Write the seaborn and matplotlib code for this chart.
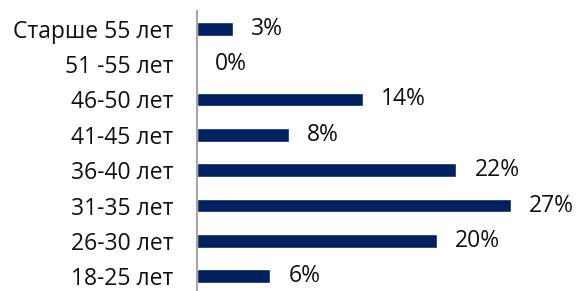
import pandas as pd
import seaborn as sns
import matplotlib.pyplot as plt

groups = ["Старше 55 лет", "51 -55 лет", "46-50 лет", "41-45 лет",
          "36-40 лет", "31-35 лет", "26-30 лет", "18-25 лет"]
# bar lengths (labels are the rounded figures)
shares = [3.1, 0, 14.3, 7.9, 22.3, 27.0, 20.6, 6.3]
labels = ["3%", "0%", "14%", "8%", "22%", "27%", "20%", "6%"]

df = pd.DataFrame({"group": groups, "share": shares})

sns.set_style("white")
plt.rcParams["font.family"] = ["Open Sans", "DejaVu Sans"]

fig = plt.figure(figsize=(5.76, 2.91), dpi=100)
ax = fig.add_axes([197 / 576, -3 / 291, 1 - 197 / 576, 283 / 291])

sns.barplot(data=df, y="group", x="share", orient="h", color="#002060",
            width=0.39, saturation=1, ax=ax)

ax.bar_label(ax.containers[0], labels=labels,
             padding=13, fontsize=16.5, color="#111111")

ax.set_xlim(0, (576 - 197) / 11.63)
ax.set_xlabel("")
ax.set_ylabel("")
ax.set_xticks([])
ax.tick_params(axis="y", length=0, pad=17, labelsize=16.5, labelcolor="#111111")
for side in ["top", "right", "bottom"]:
    ax.spines[side].set_visible(False)
ax.spines["left"].set_color("#a6a6a6")
ax.spines["left"].set_linewidth(1.5)

fig.savefig("out.png", dpi=100)
